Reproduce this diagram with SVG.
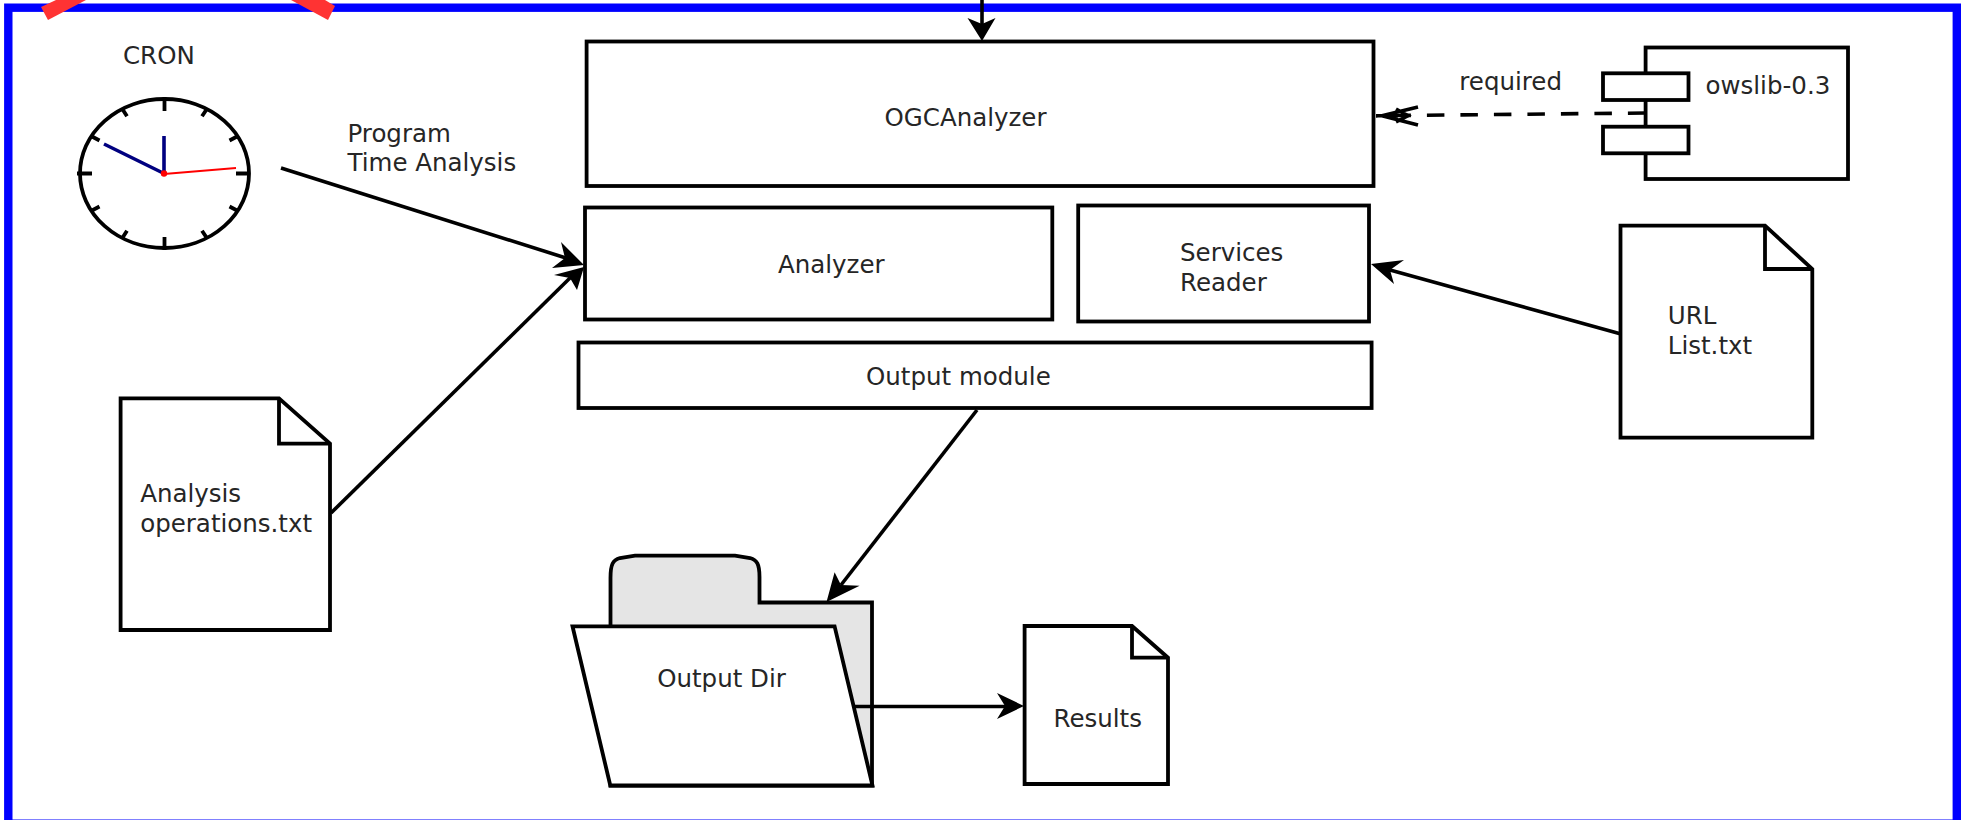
<svg xmlns="http://www.w3.org/2000/svg" width="1966" height="820" viewBox="0 0 1966 820">
<style>
.s{fill:#fff;stroke:#000;stroke-width:3.8;stroke-linejoin:miter}
.n{fill:none;stroke:#000;stroke-width:3.8}
.c{fill:none;stroke:#000;stroke-width:3.6}
.h{fill:#000;stroke:none}
.t{fill:#262626;font-family:"DejaVu Sans",Verdana,sans-serif;font-size:24.5px}
</style>
<rect width="1966" height="820" fill="#fff"/>
<g id="frame">
<rect x="8.3" y="7.7" width="1948.5" height="816" fill="none" stroke="#00f" stroke-width="8.4"/>
<polygon points="41,7 48,20 86,0 56,0" fill="#f33"/>
<polygon points="291,0 325,0 335,6 328,20" fill="#f33"/>
</g>
<g id="cron">
<ellipse cx="164.5" cy="173.5" rx="84.5" ry="74.5" fill="#fff" stroke="#000" stroke-width="3.8"/>
<path class="n" d="M164.5 97V111M164.5 237V250M77 173.5H92M236 173.5H250M207.2 108.5L202 116.3M238 136L229.5 140.5M238 211L229.5 206.5M207.2 238.5L202 230.7M122 238.5L127 230.7M91 211L99.5 206.5M91 136L99.5 140.5M122 108.5L127 116.3"/>
<path d="M164 173.5V136M164 173.5L104 144" fill="none" stroke="#000080" stroke-width="3.6"/>
<path d="M164 174L236 168" fill="none" stroke="#f00" stroke-width="2"/>
<circle cx="164" cy="173.5" r="3.2" fill="#f00"/>
<text class="t" x="123" y="64">CRON</text>
</g>
<g id="ogcanalyzer">
<rect class="s" x="586.6" y="41.5" width="786.9" height="144.5"/>
<text class="t" x="884.5" y="126">OGCAnalyzer</text>
</g>
<g id="analyzer">
<rect class="s" x="585" y="207.5" width="467.3" height="112"/>
<text class="t" x="778" y="272.7">Analyzer</text>
</g>
<g id="services-reader">
<rect class="s" x="1078.2" y="205.5" width="290.8" height="116"/>
<text class="t" x="1180" y="261">Services</text>
<text class="t" x="1180" y="291">Reader</text>
</g>
<g id="output-module">
<rect class="s" x="578.5" y="342.5" width="793.1" height="65.5"/>
<text class="t" x="866" y="385">Output module</text>
</g>
<g id="owslib">
<rect class="s" x="1645.6" y="47.5" width="202.4" height="131.5"/>
<rect class="s" x="1603" y="73.3" width="85.5" height="26.7"/>
<rect class="s" x="1603" y="126.7" width="85.5" height="26.6"/>
<text class="t" x="1705.5" y="94">owslib-0.3</text>
</g>
<g id="url-list">
<path class="s" d="M1620.5 225.7H1765L1812.3 269V437.7H1620.5Z"/>
<path class="n" d="M1765 225.7V269H1812.3"/>
<text class="t" x="1667.8" y="323.8">URL</text>
<text class="t" x="1667.8" y="353.8">List.txt</text>
</g>
<g id="analysis-operations">
<path class="s" d="M120.6 398.3H279L330 443.7V630H120.6Z"/>
<path class="n" d="M279 398.3V443.7H330"/>
<text class="t" x="140.2" y="501.7">Analysis</text>
<text class="t" x="140.2" y="532.3">operations.txt</text>
</g>
<g id="output-dir">
<path d="M610.5 626V578C610.5 564 613 560 620 558L635 555.7H735L750 558C757 560 759.5 564 759.5 577V602.5H872V785.5H610.5Z" fill="#e5e5e5" stroke="#000" stroke-width="3.8"/>
<path class="s" d="M572.5 626.3H834.6L872.5 785.5H610.3Z"/>
<text class="t" x="657.2" y="687.3">Output Dir</text>
</g>
<g id="results">
<path class="s" d="M1024.6 626H1132L1168 657.7V784H1024.6Z"/>
<path class="n" d="M1132 626V657.7H1168"/>
<text class="t" x="1053.5" y="727">Results</text>
</g>
<g id="connectors">
<path class="c" d="M982 0V26"/>
<polygon class="h" points="982,41 967.5,18 982,24 995.5,18"/>
<path class="c" d="M281 168L566 258"/>
<polygon class="h" points="584,265 561,242 565,258 552,268"/>
<path class="c" d="M331 513L571 277"/>
<polygon class="h" points="584,267 554,275 570,278 577,290"/>
<path class="c" d="M1621 334L1390 270"/>
<polygon class="h" points="1371,264 1404,260 1390,270 1394,284"/>
<path class="c" d="M977 410L841 585"/>
<polygon class="h" points="826.5,602 834.6,572.3 841,585 859.6,585.7"/>
<path class="c" d="M853.5 706.5H1006"/>
<polygon class="h" points="1024,706 997,693 1005,706 997,719"/>
<path class="c" d="M1645.4 113L1376 115.7" stroke-dasharray="17.5 16"/>
<path class="c" d="M1418 107L1382 115.7L1418 125M1376 115.7H1398M1396 109L1408 115.7L1396 122"/>
<text class="t" x="347.5" y="141.7">Program</text>
<text class="t" x="347.5" y="171">Time Analysis</text>
<text class="t" x="1459.3" y="90">required</text>
</g>
</svg>
